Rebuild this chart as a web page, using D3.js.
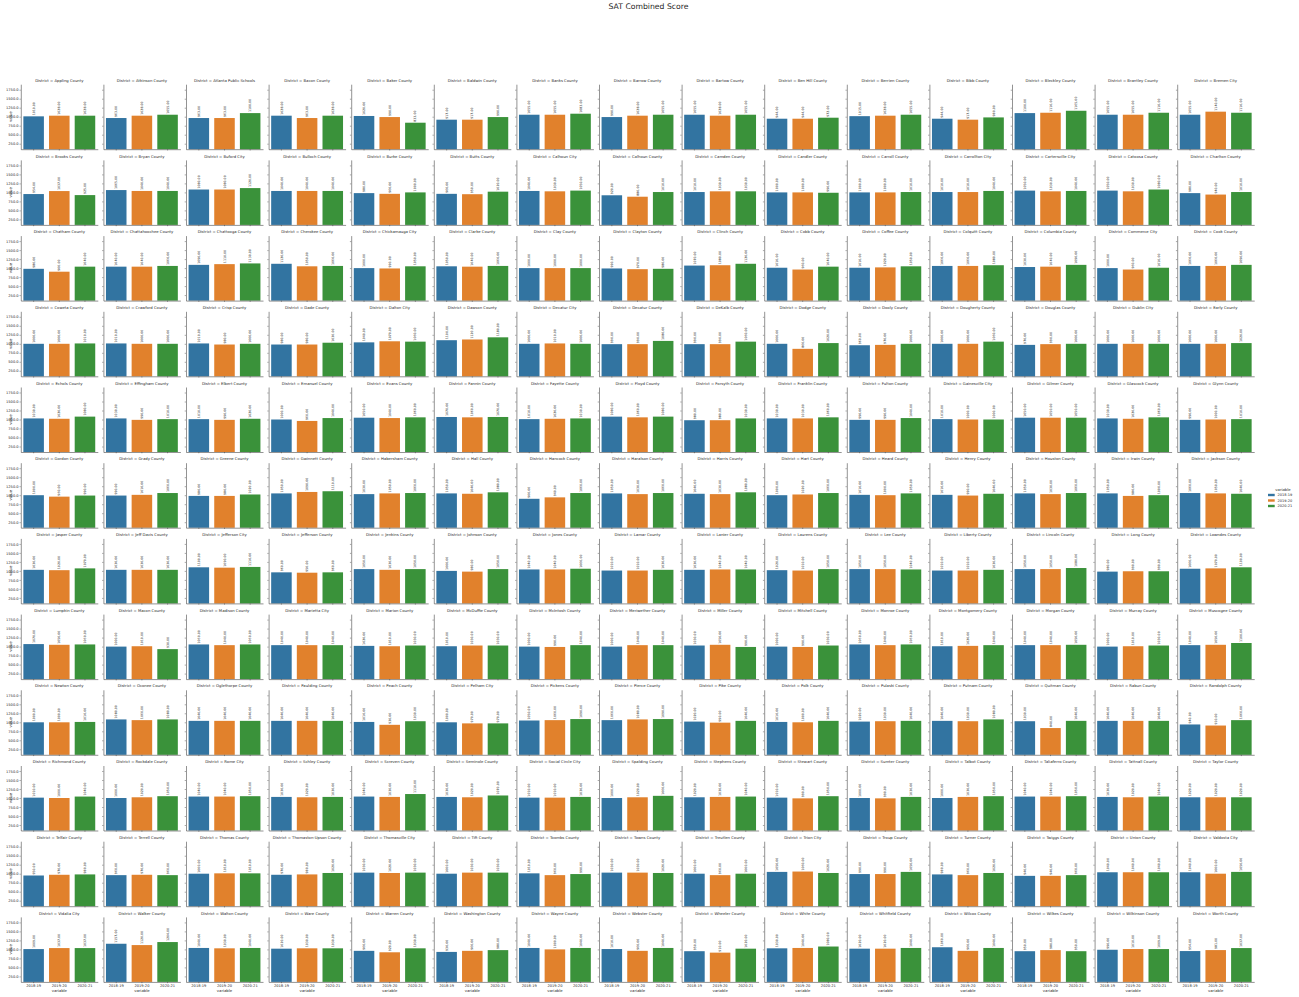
<!DOCTYPE html>
<html><head><meta charset="utf-8">
<script src="https://cdn.jsdelivr.net/npm/d3@7"></script>
<style>body{margin:0;background:#fff} svg{display:block} text{font-family:"DejaVu Sans",sans-serif}</style>
</head><body><svg id="c" width="1299" height="997"></svg>
<script>
const chartTitle = "SAT Combined Score";
const districts = [
"Appling County","Atkinson County","Atlanta Public Schools","Bacon County","Baker County","Baldwin County","Banks County","Barrow County","Bartow County","Ben Hill County","Berrien County","Bibb County","Bleckley County","Brantley County","Bremen City",
"Brooks County","Bryan County","Buford City","Bulloch County","Burke County","Butts County","Calhoun City","Calhoun County","Camden County","Candler County","Carroll County","Carrollton City","Cartersville City","Catoosa County","Charlton County",
"Chatham County","Chattahoochee County","Chattooga County","Cherokee County","Chickamauga City","Clarke County","Clay County","Clayton County","Clinch County","Cobb County","Coffee County","Colquitt County","Columbia County","Commerce City","Cook County",
"Coweta County","Crawford County","Crisp County","Dade County","Dalton City","Dawson County","Decatur City","Decatur County","DeKalb County","Dodge County","Dooly County","Dougherty County","Douglas County","Dublin City","Early County",
"Echols County","Effingham County","Elbert County","Emanuel County","Evans County","Fannin County","Fayette County","Floyd County","Forsyth County","Franklin County","Fulton County","Gainesville City","Gilmer County","Glascock County","Glynn County",
"Gordon County","Grady County","Greene County","Gwinnett County","Habersham County","Hall County","Hancock County","Haralson County","Harris County","Hart County","Heard County","Henry County","Houston County","Irwin County","Jackson County",
"Jasper County","Jeff Davis County","Jefferson City","Jefferson County","Jenkins County","Johnson County","Jones County","Lamar County","Lanier County","Laurens County","Lee County","Liberty County","Lincoln County","Long County","Lowndes County",
"Lumpkin County","Macon County","Madison County","Marietta City","Marion County","McDuffie County","McIntosh County","Meriwether County","Miller County","Mitchell County","Monroe County","Montgomery County","Morgan County","Murray County","Muscogee County",
"Newton County","Oconee County","Oglethorpe County","Paulding County","Peach County","Pelham City","Pickens County","Pierce County","Pike County","Polk County","Pulaski County","Putnam County","Quitman County","Rabun County","Randolph County",
"Richmond County","Rockdale County","Rome City","Schley County","Screven County","Seminole County","Social Circle City","Spalding County","Stephens County","Stewart County","Sumter County","Talbot County","Taliaferro County","Tattnall County","Taylor County",
"Telfair County","Terrell County","Thomas County","Thomaston-Upson County","Thomasville City","Tift County","Toombs County","Towns County","Treutlen County","Trion City","Troup County","Turner County","Twiggs County","Union County","Valdosta City",
"Vidalia City","Walker County","Walton County","Ware County","Warren County","Washington County","Wayne County","Webster County","Wheeler County","White County","Whitfield County","Wilcox County","Wilkes County","Wilkinson County","Worth County"
];
const years = ["2018-19","2019-20","2020-21"];
const score2018_19 = [
1010,963,963,1028,1020,917,1055,990,1055,944,1015,944,1100,1055,1055,
954,1065,1080,1040,980,960,1040,920,1010,1000,1000,1010,1050,1050,980,
980,1040,1090,1120,1000,1050,1000,990,1070,1010,1010,1060,1030,1000,1060,
1000,1010,1010,980,1040,1100,1000,990,990,1000,960,1000,970,1000,1000,
1030,1030,1010,1000,1050,1070,1010,1080,980,1030,990,1010,1050,1030,990,
1000,990,980,1050,1030,1050,900,1050,1040,1000,1010,1010,1050,1050,1060,
1030,1030,1100,960,1050,1000,1040,1010,1030,1020,1050,1010,1050,980,1060,
1070,1000,1060,1040,1020,1010,1000,1000,1030,1000,1060,1010,1040,1000,1040,
1000,1080,1040,1040,1010,1000,1050,1060,1020,1010,1020,1040,1030,1040,940,
1010,1000,1040,1030,1040,1030,1010,1000,1020,1010,1000,1000,1040,1030,1020,
950,960,1000,970,1030,1000,1010,1030,1000,1050,990,980,940,1040,1040,
1009,1157,1040,1020,960,930,1040,1010,950,1030,1020,1060,950,990,954
];
const score2019_20 = [
1028,1028,963,963,990,917,1055,1028,1028,944,1028,917,1110,1055,1140,
1037,1040,1080,1040,960,950,1030,880,1030,1000,1000,1010,1030,1030,940,
900,1040,1110,1050,990,1040,1000,970,1080,960,1020,1060,1040,960,1060,
1000,1000,980,980,1070,1120,1010,990,990,860,970,1000,990,1000,1000,
1020,990,990,960,1040,1060,1020,1060,980,1030,990,1000,1050,1020,1000,
960,1010,980,1090,1050,1040,940,1030,1030,1020,1000,990,1030,980,1050,
1020,1030,1090,950,1030,980,1040,1010,1040,1010,1050,1010,1050,990,1070,
1050,1010,1040,1040,1010,1030,990,1040,1050,990,1040,1020,1040,1010,1050,
1000,1060,1040,1040,930,970,1060,1080,990,1000,1030,1030,840,1040,910,
1000,1020,1040,1020,1030,1020,1010,1020,1030,990,990,1030,1040,1020,1020,
970,970,1010,980,1020,1030,960,1030,960,1060,990,960,940,1040,1000,
1037,1120,1030,1030,920,960,1000,960,910,1040,1020,960,980,1010,981
];
const score2020_21 = [
1028,1055,1100,1028,833,990,1083,1055,1055,972,1055,980,1165,1110,1110,
925,1040,1120,1040,1000,1020,1050,1010,1030,990,1010,1040,1040,1080,1010,
1040,1060,1130,1060,1050,1060,1000,980,1120,1040,1050,1080,1090,1010,1090,
1010,1000,1000,1030,1060,1180,1000,1080,1060,1020,1000,1060,1000,1000,1020,
1080,1010,1020,1040,1060,1070,1030,1080,1030,1060,1040,1000,1050,1060,1010,
990,1060,1020,1110,1060,1080,1060,1060,1080,1060,1050,1040,1060,1000,1040,
1070,1030,1110,960,1050,1050,1060,1030,1040,1050,1040,1030,1080,990,1100,
1060,930,1060,1040,1030,1030,1040,1040,990,1030,1060,1040,1050,1030,1100,
1010,1080,1040,1040,1030,970,1090,1090,1040,1040,1040,1080,1040,1040,1060,
1040,1050,1050,1030,1110,1070,1030,1060,1040,1050,1030,1050,1050,1040,1020,
980,960,1010,1020,1030,1030,990,1020,1000,1020,1050,1020,960,1040,1050,
1037,1204,1040,1030,1030,980,1040,1040,1020,1080,1040,1040,950,1009,1037
];
const yTicks = [250, 500, 750, 1000, 1250, 1500, 1750];
const yDomain = [97, 1903];
const colors = ["#3274a1", "#e1812c", "#3a923a"];
const facetLabel = "District";
const xLabel = "variable";
const yLabel = "value";
const legendTitle = "variable";

const W = 1299, H = 997, nCols = 15;
const colLeft0 = 20.8, colPitch = 82.6, axW = 77;
const rowMid0 = 116.7, rowPitch = 75.7, axH = 65;
const ink = "#262626";

const svg = d3.select("#c");
svg.append("rect").attr("width", W).attr("height", H).attr("fill", "#fff");

svg.append("text").attr("x", 648.5).attr("y", 8.8).attr("text-anchor", "middle")
  .attr("font-size", 7.7).attr("fill", ink).text(chartTitle);

const x = d3.scaleBand().domain(years).range([0, axW]).paddingInner(0.2).paddingOuter(0.1);
const y = d3.scaleLinear().domain(yDomain).range([axH, 0]);
const series = [score2018_19, score2019_20, score2020_21];
const nRows = Math.ceil(districts.length / nCols);

districts.forEach((name, i) => {
  const r = Math.floor(i / nCols), c = i % nCols;
  const g = svg.append("g")
    .attr("transform", `translate(${colLeft0 + c * colPitch},${rowMid0 + r * rowPitch - axH / 2})`);
  const vals = years.map((yr, k) => ({ yr, k, v: series[k][i] }));

  g.selectAll("rect.bar").data(vals).join("rect").attr("class", "bar")
    .attr("x", d => x(d.yr)).attr("width", x.bandwidth())
    .attr("y", d => y(d.v)).attr("height", d => axH - y(d.v))
    .attr("fill", d => colors[d.k]);

  g.selectAll("text.bl").data(vals).join("text").attr("class", "bl")
    .attr("transform", d => `translate(${x(d.yr) + x.bandwidth() / 2},${y(d.v) - 1}) rotate(-90)`)
    .attr("dy", "0.35em").attr("font-size", 3.2).attr("fill", ink)
    .text(d => d.v.toFixed(2));

  const ya = d3.axisLeft(y).tickValues(yTicks).tickSize(1.3).tickSizeOuter(0).tickPadding(0.9)
    .tickFormat(c === 0 ? d3.format(".1f") : () => "");
  const yg = g.append("g").call(ya);
  const xa = d3.axisBottom(x).tickSize(1.3).tickSizeOuter(0).tickPadding(1)
    .tickFormat(r === nRows - 1 ? (d => d) : () => "");
  const xg = g.append("g").attr("transform", `translate(0,${axH})`).call(xa);
  [yg, xg].forEach(a => {
    a.attr("font-family", null).attr("font-size", null);
    a.selectAll("path.domain").attr("stroke", ink).attr("stroke-width", 0.5);
    a.selectAll(".tick line").attr("stroke", ink).attr("stroke-width", 0.4);
    a.selectAll(".tick text").attr("fill", ink).attr("font-size", 3.6);
  });

  g.append("text").attr("x", axW / 2).attr("y", -2.4).attr("text-anchor", "middle")
    .attr("font-size", 3.8).attr("fill", ink).text(`${facetLabel} = ${name}`);

  if (c === 0) {
    g.append("text").attr("transform", `translate(-9,${axH / 2}) rotate(-90)`)
      .attr("text-anchor", "middle").attr("font-size", 3.8).attr("fill", ink).text(yLabel);
  }
  if (r === nRows - 1) {
    g.append("text").attr("x", axW / 2).attr("y", axH + 10.4).attr("text-anchor", "middle")
      .attr("font-size", 3.8).attr("fill", ink).text(xLabel);
  }
});

// legend
const lg = svg.append("g");
lg.append("text").attr("x", 1283).attr("y", 490.5).attr("text-anchor", "middle")
  .attr("font-size", 3.8).attr("fill", ink).text(legendTitle);
years.forEach((yr, k) => {
  const cy = 495 + k * 5.5;
  lg.append("rect").attr("x", 1268).attr("y", cy - 1.2).attr("width", 6.7).attr("height", 2.4).attr("fill", colors[k]);
  lg.append("text").attr("x", 1277.5).attr("y", cy).attr("dy", "0.35em")
    .attr("font-size", 3.5).attr("fill", ink).text(yr);
});
</script></body></html>
